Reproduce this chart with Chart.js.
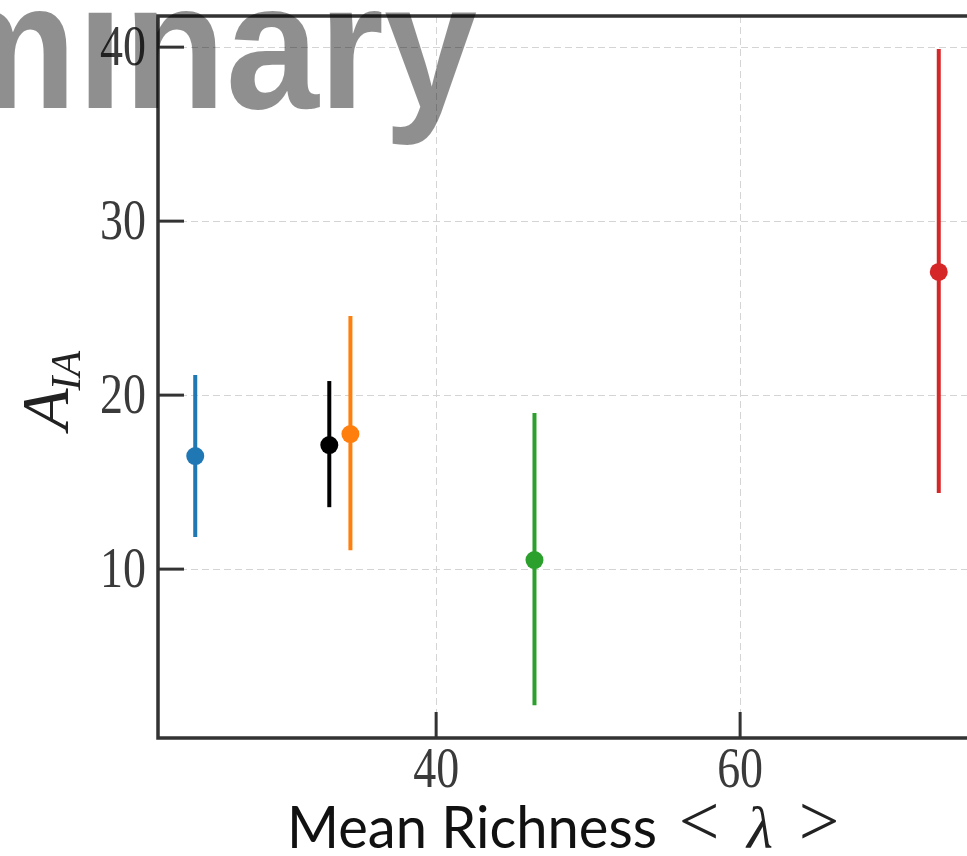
<!DOCTYPE html>
<html>
<head>
<meta charset="utf-8">
<script src="https://cdn.jsdelivr.net/npm/chart.js@4.4.0/dist/chart.umd.min.js"></script>
<style>
  html, body { margin: 0; padding: 0; background: #fff; overflow: hidden; }
  #chart { position: absolute; left: 0; top: 0; }
</style>
</head>
<body>
<canvas id="chart" width="990" height="856"></canvas>
<script>
  // Values
  const richness = [24.15, 32.97, 34.36, 46.47, 73.07];
  const aia = [16.50, 17.13, 17.76, 10.52, 27.08];
  const aiaLow = [11.84, 13.56, 11.09, 2.18, 14.37];
  const aiaHigh = [21.15, 20.81, 24.55, 18.97, 39.90];
  const colors = ['#1f77b4', '#000000', '#ff7f0e', '#2ca02c', '#d62728'];
  const xTicks = [40, 60];
  const yTicks = [10, 20, 30, 40];

  const SPINE = '#333333';
  const serif = '"Liberation Serif", "DejaVu Serif", serif';

  // error bars as two-point lines, then the markers on top
  const datasets = [];
  richness.forEach((x, i) => {
    datasets.push({
      type: 'line',
      data: [{ x: x, y: aiaLow[i] }, { x: x, y: aiaHigh[i] }],
      borderColor: colors[i],
      borderWidth: 4,
      pointRadius: 0,
      borderCapStyle: 'butt',
      order: 2
    });
  });
  richness.forEach((x, i) => {
    datasets.push({
      type: 'scatter',
      data: [{ x: x, y: aia[i] }],
      backgroundColor: colors[i],
      borderWidth: 0,
      pointRadius: 9,
      order: 1
    });
  });

  // frame, inward ticks, tick labels, axis titles and the watermark
  const decorations = {
    id: 'decorations',
    afterDatasetsDraw(chart) {
      const ctx = chart.ctx;
      const a = chart.chartArea;
      const xs = chart.scales.x, ys = chart.scales.y;
      ctx.save();
      ctx.strokeStyle = SPINE;
      ctx.lineWidth = 3;
      xTicks.forEach(v => {
        const px = xs.getPixelForValue(v);
        ctx.beginPath(); ctx.moveTo(px, a.bottom); ctx.lineTo(px, a.bottom - 26); ctx.stroke();
      });
      yTicks.forEach(v => {
        const py = ys.getPixelForValue(v);
        ctx.beginPath(); ctx.moveTo(a.left, py); ctx.lineTo(a.left + 26, py); ctx.stroke();
      });
      ctx.lineWidth = 3.5;
      ctx.beginPath();
      ctx.moveTo(a.left, a.top); ctx.lineTo(a.right, a.top);
      ctx.lineTo(a.right, a.bottom); ctx.lineTo(a.left, a.bottom);
      ctx.closePath();
      ctx.stroke();

      // tick labels
      ctx.fillStyle = '#3a3a3a';
      ctx.font = '56px ' + serif;
      ctx.textBaseline = 'alphabetic';
      yTicks.forEach(v => {
        const py = ys.getPixelForValue(v);
        ctx.save();
        ctx.translate(a.left - 12, py + 18);
        ctx.scale(0.82, 1);
        ctx.textAlign = 'right';
        ctx.fillText(String(v), 0, 0);
        ctx.restore();
      });
      xTicks.forEach(v => {
        const px = xs.getPixelForValue(v);
        ctx.save();
        ctx.translate(px, a.bottom + 49);
        ctx.scale(0.82, 1);
        ctx.textAlign = 'center';
        ctx.fillText(String(v), 0, 0);
        ctx.restore();
      });

      // x title
      ctx.fillStyle = '#111';
      ctx.save();
      ctx.font = '58px Lato, "Open Sans", sans-serif';
      const w = ctx.measureText('Mean Richness').width;
      ctx.translate(287, 848);
      ctx.scale(370 / w, 1);
      ctx.textAlign = 'left';
      ctx.fillText('Mean Richness', 0, 0);
      ctx.restore();
      ctx.fillStyle = '#222';
      ctx.font = '72px ' + serif;
      ctx.textAlign = 'center';
      ctx.fillText('<', 699, 845);
      ctx.fillText('>', 819, 845);
      ctx.font = 'italic 60px ' + serif;
      ctx.fillText('λ', 760, 848);

      // y title A_IA
      ctx.save();
      ctx.translate(68, 430);
      ctx.rotate(-Math.PI / 2);
      ctx.textAlign = 'left';
      ctx.fillStyle = '#222';
      ctx.font = 'italic 68px ' + serif;
      ctx.fillText('A', 0, 0);
      const aw = ctx.measureText('A').width;
      ctx.font = 'italic 42px ' + serif;
      ctx.fillText('IA', aw - 2, 12);
      ctx.restore();
      ctx.restore();
    },
    afterDraw(chart) {
      const ctx = chart.ctx;
      ctx.save();
      ctx.fillStyle = 'rgba(0, 0, 0, 0.44)';
      ctx.font = 'bold 180px "Liberation Sans", Arial, sans-serif';
      ctx.translate(477, 108);
      ctx.scale(0.93, 1);
      ctx.textAlign = 'right';
      ctx.textBaseline = 'alphabetic';
      ctx.fillText('Preliminary', 0, 0);
      ctx.restore();
    }
  };

  new Chart(document.getElementById('chart'), {
    type: 'scatter',
    data: { datasets: datasets },
    plugins: [decorations],
    options: {
      responsive: false,
      animation: false,
      devicePixelRatio: 1,
      layout: { padding: { left: 158, top: 16, right: 14, bottom: 118 } },
      plugins: { legend: { display: false }, tooltip: { enabled: false } },
      scales: {
        x: {
          type: 'linear',
          min: 21.70,
          max: 75.52,
          afterBuildTicks: axis => { axis.ticks = xTicks.map(v => ({ value: v })); },
          afterFit: axis => { axis.height = 0; },
          ticks: { display: false },
          grid: { color: '#d4d4d4', lineWidth: 1, drawTicks: false },
          border: { display: false, dash: [7, 4] }
        },
        y: {
          type: 'linear',
          min: 0.294,
          max: 41.79,
          afterBuildTicks: axis => { axis.ticks = yTicks.map(v => ({ value: v })); },
          afterFit: axis => { axis.width = 0; },
          ticks: { display: false },
          grid: { color: '#d4d4d4', lineWidth: 1, drawTicks: false },
          border: { display: false, dash: [7, 4] }
        }
      }
    }
  });
</script>
</body>
</html>
